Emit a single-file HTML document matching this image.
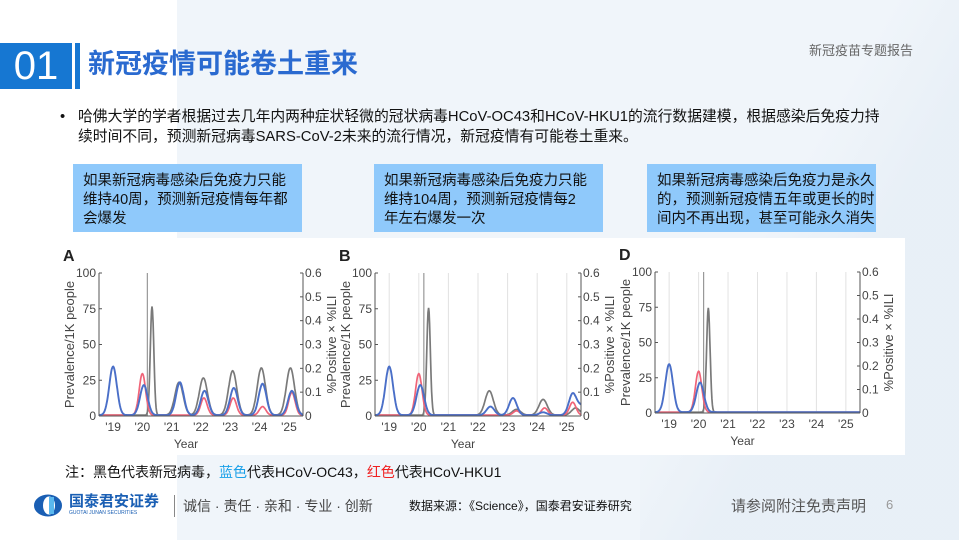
<!DOCTYPE html>
<html><head><meta charset="utf-8">
<style>
*{margin:0;padding:0;box-sizing:border-box}
body{width:959px;height:540px;overflow:hidden;position:relative;font-family:"Liberation Sans","Noto Sans CJK SC",sans-serif;background:#f0f5fa}
.abs{position:absolute}
.box{position:absolute;background:#8fc9fb;font-size:14.5px;line-height:19px;color:#111;padding:8px 2px 0 10px;white-space:nowrap}
</style></head><body>
<div class="abs" style="left:0;top:0;width:177px;height:540px;background:#fff"></div>
<div class="abs" style="left:640px;top:0;width:320px;height:540px;background:linear-gradient(120deg,rgba(255,255,255,0) 40%,rgba(230,238,246,0.8) 60%)"></div>
<div class="abs" style="left:0;top:43px;width:72px;height:46px;background:#1677d2;color:#fff;font-size:40px;line-height:46px;text-align:center">01</div>
<div class="abs" style="left:75px;top:43px;width:5px;height:46px;background:#1677d2"></div>
<div class="abs" style="left:88px;top:44px;font-size:27px;line-height:40px;font-weight:bold;color:#2a6ad0">新冠疫情可能卷土重来</div>
<div class="abs" style="left:809px;top:40px;font-size:13px;color:#666">新冠疫苗专题报告</div>
<div class="abs" style="left:60px;top:107px;width:880px;font-size:14.8px;line-height:20px;color:#111;white-space:nowrap">
<span style="position:absolute;left:0">•</span><div style="margin-left:18px">哈佛大学的学者根据过去几年内两种症状轻微的冠状病毒HCoV-OC43和HCoV-HKU1的流行数据建模，根据感染后免疫力持<br>续时间不同，预测新冠病毒SARS-CoV-2未来的流行情况，新冠疫情有可能卷土重来。</div></div>
<div class="box" style="left:73px;top:164px;width:229px;height:68px">如果新冠病毒感染后免疫力只能<br>维持40周，预测新冠疫情每年都<br>会爆发</div>
<div class="box" style="left:374px;top:164px;width:229px;height:68px">如果新冠病毒感染后免疫力只能<br>维持104周，预测新冠疫情每2<br>年左右爆发一次</div>
<div class="box" style="left:647px;top:164px;width:229px;height:68px">如果新冠病毒感染后免疫力是永久<br>的，预测新冠疫情五年或更长的时<br>间内不再出现，甚至可能永久消失</div>
<svg class="abs" style="left:0;top:0" width="959" height="540" id="chart"></svg>
<div class="abs" style="left:65px;top:462px;font-size:14px;color:#111">注：黑色代表新冠病毒，<span style="color:#1aa0e8">蓝色</span>代表HCoV-OC43，<span style="color:#f02020">红色</span>代表HCoV-HKU1</div>
<svg class="abs" style="left:33px;top:493px" width="30" height="25"><ellipse cx="15" cy="12.5" rx="14" ry="11" fill="#1a5fb4"/><ellipse cx="16" cy="12.5" rx="6" ry="9" fill="#fff"/><rect x="16" y="4" width="5" height="17" fill="#5ab8ee"/></svg>
<div class="abs" style="left:69px;top:494px;font-size:15px;font-weight:bold;color:#1a5fb4;line-height:16px">国泰君安证券<div style="font-size:5px;line-height:7px;font-weight:normal">GUOTAI JUNAN SECURITIES</div></div>
<div class="abs" style="left:174px;top:495px;width:1px;height:22px;background:#888"></div>
<div class="abs" style="left:183px;top:496px;font-size:14px;color:#444">诚信 · 责任 · 亲和 · 专业 · 创新</div>
<div class="abs" style="left:409px;top:497px;font-size:12px;color:#111">数据来源：《Science》，国泰君安证券研究</div>
<div class="abs" style="left:731px;top:495px;font-size:15px;color:#555">请参阅附注免责声明</div>
<div class="abs" style="left:886px;top:497px;font-size:13px;color:#999">6</div>
<script>
const years=[2019,2020,2021,2022,2023,2024,2025];
const yTicks=[0,25,50,75,100];
const rTicks=['0','0.1','0.2','0.3','0.4','0.5','0.6'];
// panel A peaks: [year, height]
const aBlue=[[2019.0,34],[2020.05,21],[2021.28,23],[2022.12,17],[2023.12,19],[2024.1,22],[2025.1,17]];
const aRed=[[2020.0,29],[2022.1,12],[2023.1,12],[2024.1,6],[2025.1,16]];
const aGrey=[[2020.33,76],[2021.25,23],[2022.08,26],[2023.08,31],[2024.06,33],[2025.05,33]];
const bBlue=[[2019.0,34],[2020.05,21],[2022.42,6],[2023.18,12],[2024.2,2],[2025.2,15],[2025.5,6]];
const bRed=[[2020.0,29],[2023.3,3],[2024.25,5],[2025.2,9]];
const bGrey=[[2020.33,75],[2022.38,17],[2023.3,4],[2024.2,11],[2025.3,5]];
const dBlue=[[2019.0,34],[2020.05,21]];
const dRed=[[2020.0,29]];
const dGrey=[[2020.33,74]];
const panels=[
 {label:'A',x0:99,x1:303,y0:273,y1:416,grid:false,blue:aBlue,red:aRed,grey:aGrey},
 {label:'B',x0:375,x1:581,y0:273,y1:416,grid:true,blue:bBlue,red:bRed,grey:bGrey},
 {label:'D',x0:655,x1:860,y0:272,y1:413,grid:true,blue:dBlue,red:dRed,grey:dGrey}];
const NS='http://www.w3.org/2000/svg';
const svg=document.getElementById('chart');
function mk(t,a,p){const e=document.createElementNS(NS,t);for(const k in a)e.setAttribute(k,a[k]);(p||svg).appendChild(e);return e;}
const bg=mk('rect',{x:52,y:238,width:853,height:217,fill:'#fff'});


const D0=2018.52,D1=2025.48;
panels.forEach(p=>{
 const g=mk('g',{});
 
 
 const X=t=>p.x0+(t-D0)/(D1-D0)*(p.x1-p.x0);
 const Y=v=>p.y1-v/100*(p.y1-p.y0);
 const lab=mk('text',{x:p.x0-36,y:p.y0-12,'font-size':16,'font-weight':'bold',fill:'#222'},g);lab.textContent=p.label;
 
 
 if(p.grid)years.forEach(y=>{mk('line',{x1:X(y),x2:X(y),y1:p.y0,y2:p.y1,stroke:'#e2e2e2','stroke-width':1},g);});
 mk('line',{x1:X(2020.17),x2:X(2020.17),y1:p.y0,y2:p.y1,stroke:'#999','stroke-width':1.2},g);
 function curve(peaks,color,sig,sw,name,isGrey){
  let d='';
  for(let i=0;i<=400;i++){const t=D0+(D1-D0)*i/400;let v=0.6;
   peaks.forEach(([c,h],j)=>{const s=(isGrey&&j===0&&c>2020.2&&c<2020.5)?0.06:sig;v+=h*Math.exp(-((t-c)**2)/(2*s*s));});
   d+=(i?'L':'M')+X(t).toFixed(1)+','+Y(Math.min(v,100)).toFixed(1);}
  const e=mk('path',{d:d,fill:'none',stroke:color,'stroke-width':sw},g);
  
  
 }
 curve(p.grey,'#7a7a7a',0.14,1.7,'sars-cov-2-line',true);
 curve(p.red,'#f06478',0.11,1.7,'hcov-hku1-line',false);
 curve(p.blue,'#4a6fc8',0.13,1.9,'hcov-oc43-line',false);
 mk('line',{x1:p.x0,x2:p.x0,y1:p.y0,y2:p.y1,stroke:'#555'},g);
 mk('line',{x1:p.x1,x2:p.x1,y1:p.y0,y2:p.y1,stroke:'#555'},g);
 mk('line',{x1:p.x0,x2:p.x1,y1:p.y1,y2:p.y1,stroke:'#555'},g);
 yTicks.forEach(v=>{const t=mk('text',{x:p.x0-3,y:Y(v)+4,'font-size':12,fill:'#444','text-anchor':'end'},g);t.textContent=v;
  mk('line',{x1:p.x0,x2:p.x0+3,y1:Y(v),y2:Y(v),stroke:'#555'},g);});
 rTicks.forEach((s,i)=>{const yy=p.y1-i/6*(p.y1-p.y0);const t=mk('text',{x:p.x1+2,y:yy+4,'font-size':12,fill:'#444'},g);t.textContent=s;
  mk('line',{x1:p.x1-3,x2:p.x1,y1:yy,y2:yy,stroke:'#555'},g);});
 years.forEach(y=>{const t=mk('text',{x:X(y),y:p.y1+15,'font-size':12,fill:'#444','text-anchor':'middle'},g);t.textContent="'"+String(y).slice(2);});
 const xt=mk('text',{x:(p.x0+p.x1)/2-15,y:p.y1+32,'font-size':12,fill:'#444','text-anchor':'middle'},g);xt.textContent='Year';
 
 
 const yl=mk('text',{x:0,y:0,'font-size':13,fill:'#444','text-anchor':'middle',transform:`translate(${p.x0-25},${(p.y0+p.y1)/2}) rotate(-90)`},g);yl.textContent='Prevalence/1K people';
 
 
 const yr=mk('text',{x:0,y:0,'font-size':13,fill:'#444','text-anchor':'middle',transform:`translate(${p.x1+33},${(p.y0+p.y1)/2}) rotate(-90)`},g);yr.textContent='%Positive × %ILI';
 
 
});
</script>
</body></html>
